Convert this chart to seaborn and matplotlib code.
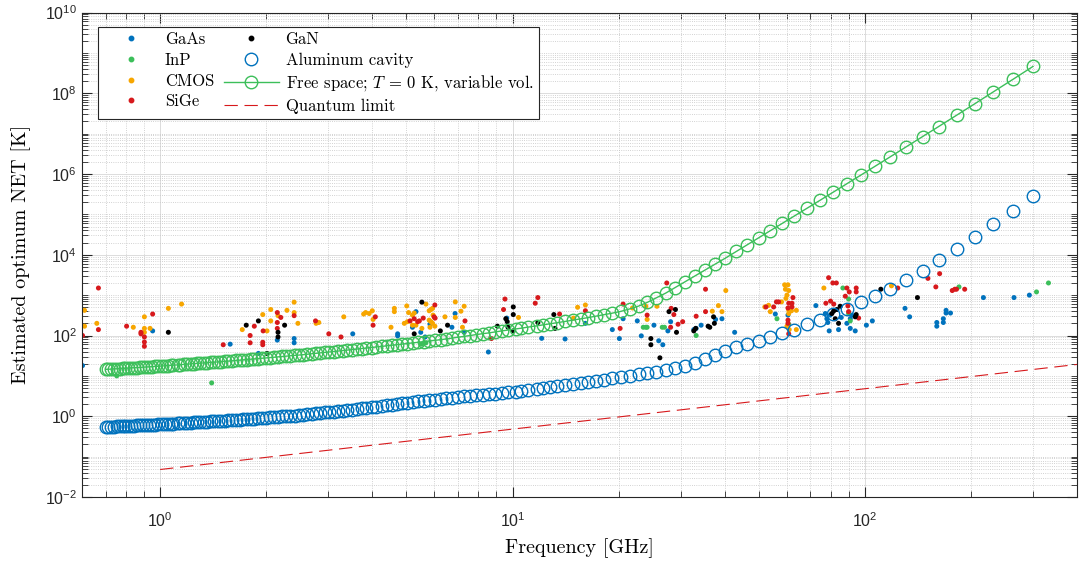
import numpy as np
import pandas as pd
import matplotlib
matplotlib.use("Agg")
import matplotlib.pyplot as plt
import seaborn as sns
from matplotlib.lines import Line2D
from matplotlib.ticker import LogLocator, NullFormatter, FixedLocator

# ---- measured devices: frequency [GHz] and noise temperature [K] ----
GaAs_f = [0.602,0.952,1.58,1.9,2.15,2.4,2.4,3.52,4.72,4.72,5.32,5.2,5.49,5.83,5.65,6.87,6.73,7.29,8.54,9.63,12.1,14.1,16.1,19.2,20.1,20.6,22.6,23.2,25.2,27.6,26.7,26,28.1,32.7,33.2,34.3,37.7,39.3,42.7,55.7,60.5,72.6,77.2,79.7,78,78.5,79.2,84.2,85.7,90.9,91.8,90.9,93.9,88.9,101,105,130,134,160,160,167,167,170,170,175,217,265,293]
GaAs_T = [18,130,61,36,77,84,66,110,110,98,390,160,120,190,92,350,160,120,39,270,85,82,200,140,84,260,230,98,180,130,59,74,220,140,150,180,250,260,120,340,320,550,350,320,260,210,130,140,280,260,320,150,130,200,180,230,470,290,210,170,260,210,420,360,360,870,870,1000]
InP_f = [0.753,1.40,5.68,5.52,23.5,23.9,24.1,26.6,27.0,33.2,56.3,60.8,86.6,89.9,89.9,90.9,185,307,332]
InP_T = [10,6.7,66,61,160,160,160,160,160,100,260,190,1500,800,350,230,1600,1200,2000]
CMOS_f = [0.610,0.661,0.610,0.839,0.902,0.902,0.902,0.936,1.055,1.15,1.71,1.955,2.01,2.06,2.06,2.16,2.29,2.40,2.40,2.46,2.82,2.77,3.32,3.78,3.83,3.92,4.0,4.02,4.62,4.62,4.52,5.01,5.07,5.03,4.93,5.2,5.26,5.2,5.32,5.53,5.68,5.8,5.87,5.93,5.95,5.8,5.87,5.93,5.83,6.02,6.43,6.88,7.29,7.14,6.88,7.21,10.4,14.9,15.3,16.1,21.9,23.9,24.1,25.7,36.9,38.4,39.3,40.3,52.0,53.3,53.9,58.0,59.2,60.5,59.5,60.1,60.8,59.7,60.8,60.8,60.1,61.0,63.9,61.9,63.9,76.5,119]
CMOS_T = [420,200,170,160,290,150,120,150,470,600,140,330,130,440,230,310,420,670,370,200,210,200,290,340,370,350,410,250,470,390,160,540,370,220,200,320,360,180,180,150,600,410,440,470,320,240,220,200,160,170,290,680,530,400,280,160,280,270,500,570,480,530,250,530,400,550,390,1300,510,560,390,680,1800,1800,1400,1000,1300,830,420,350,170,140,140,410,420,1500,1700]
SiGe_f = [0.668,0.668,0.602,0.803,0.952,0.882,0.882,0.902,0.902,0.902,1.51,1.80,1.80,1.85,1.96,1.955,1.955,2.15,2.20,2.15,2.15,2.40,2.76,3.01,3.26,4.08,4.02,5.12,5.26,5.38,5.44,5.58,6.02,5.99,6.03,7.33,8.71,9.43,9.52,11.6,11.8,13.6,16.1,20.6,20.2,24.1,27.4,28.2,28.7,28.1,29.5,30.4,33.2,35.3,35.3,52.4,55.1,56.1,56.9,62.5,60.8,62.1,62.1,60.5,60.5,60.5,60.8,78.9,81.1,83.0,77.5,79.9,81.6,88.9,90.3,94.5,94.5,88.0,89.5,89.9,96.0,124,151,163,159,177,180,182,192]
SiGe_T = [1500,140,100,170,340,120,110,92,69,54,59,100,66,170,130,68,59,370,280,210,150,310,230,110,92,290,180,230,260,220,230,270,570,290,270,230,84,440,800,630,870,340,410,600,150,320,2000,470,330,160,190,220,300,1400,390,510,510,680,680,870,630,630,510,480,240,200,110,2700,2000,2000,630,710,600,1500,1200,1500,1200,940,540,390,270,1500,2600,3400,1600,1300,1400,1400,1400]
GaN_f = [1.055,1.755,1.90,2.01,2.16,2.16,2.255,5.26,5.53,6.24,6.54,9.06,9.57,9.66,10.05,10.05,9.71,10.05,11.8,13.1,13.2,24.7,24.7,26.2,27.8,29.0,29.2,32.7,33.1,35.9,36.3,37.2,37.4,85.1,83.3,81.5,80.6,82.4,84.2,94.5,93.9,111,141]
GaN_T = [120,180,230,36,120,92,180,110,670,130,180,170,260,220,510,330,160,130,210,330,150,84,59,28,390,440,120,130,150,170,160,290,200,530,440,400,350,260,200,330,290,1400,870]

# ---- model curves: frequency [GHz], aluminum cavity [K], free space [K] ----
curve_f = [.7,.713,.726,.739,.753,.767,.782,.797,.812,.827,.843,.86,.877,.894,.912,.93,.949,.968,.988,1.01,1.03,1.05,1.07,1.09,1.12,1.14,1.17,1.19,1.22,1.25,1.27,1.3,1.33,1.36,1.39,1.42,1.46,1.49,1.53,1.56,1.6,1.64,1.68,1.72,1.76,1.81,1.85,1.9,1.95,2,2.05,2.11,2.16,2.22,2.28,2.34,2.41,2.47,2.54,2.61,2.69,2.77,2.85,2.93,3.02,3.11,3.2,3.3,3.4,3.51,3.62,3.73,3.85,3.98,4.11,4.25,4.39,4.54,4.7,4.86,5.03,5.21,5.4,5.6,5.81,6.02,6.25,6.49,6.74,7.01,7.29,7.59,7.9,8.23,8.57,8.94,9.33,9.74,10.2,10.6,11.1,11.7,12.2,12.8,13.4,14.1,14.8,15.6,16.4,17.3,18.2,19.2,20.3,21.5,22.8,24.1,25.6,27.2,28.9,30.8,32.9,35.1,37.6,40.2,43.2,46.4,50,53.9,58.3,63.1,68.5,74.6,81.4,89,97.6,107,118,131,146,162,182,205,231,263,300]
cavity_T = [0.543,0.547,0.552,0.556,0.56,0.565,0.569,0.574,0.578,0.583,0.587,0.592,0.597,0.602,0.607,0.612,0.617,0.622,0.628,0.633,0.64,0.647,0.653,0.66,0.667,0.674,0.682,0.689,0.696,0.704,0.712,0.72,0.728,0.736,0.744,0.753,0.762,0.771,0.78,0.789,0.799,0.812,0.825,0.838,0.851,0.865,0.879,0.893,0.908,0.923,0.939,0.955,0.971,0.988,1,1.02,1.04,1.06,1.09,1.12,1.14,1.17,1.21,1.24,1.27,1.31,1.35,1.38,1.42,1.46,1.51,1.56,1.62,1.67,1.73,1.8,1.86,1.93,2,2.08,2.15,2.24,2.32,2.4,2.49,2.58,2.67,2.77,2.88,2.99,3.09,3.19,3.3,3.41,3.52,3.64,3.77,3.9,4.06,4.28,4.51,4.75,5.01,5.29,5.59,5.92,6.27,6.65,7.06,7.5,8.02,8.65,9.35,10.1,10.9,11.8,12.7,14,15.6,17.6,20.9,26.1,33,41.5,52.1,62,74.7,93.4,113,140,193,246,346,464,665,959,1.44e3,2.35e3,4.06e3,7.42e3,1.37e4,2.76e4,5.79e4,1.21e5,2.81e5]
free_T = [14.5,14.6,14.7,14.9,15,15.2,15.3,15.5,15.6,15.8,15.9,16.1,16.2,16.4,16.6,16.7,16.9,17.1,17.3,17.5,17.7,17.9,18.2,18.4,18.7,18.9,19.2,19.5,19.8,20.1,20.3,20.6,20.9,21.2,21.5,21.8,22.2,22.5,22.9,23.2,23.6,24.1,24.5,24.9,25.4,25.9,26.3,26.9,27.4,27.9,28.4,29.1,29.6,30.2,30.8,31.4,32.1,32.7,33.4,34.3,35.2,36.2,37.1,38,39.1,40.1,41.2,42.3,43.5,44.7,46,47.3,48.6,50.1,51.7,53.5,55.3,57.2,59.2,61.2,63.3,65.6,68,70.5,73.1,75.8,78.7,82.3,86.3,90.6,95.2,100,105,111,116,123,130,137,145,152,162,173,183,195,208,223,239,257,278,303,328,358,396,455,536,658,856,1.12e3,1.53e3,2.12e3,2.97e3,4.13e3,5.87e3,8.25e3,1.21e4,1.77e4,2.65e4,3.94e4,5.99e4,9.12e4,1.41e5,2.23e5,3.56e5,5.76e5,9.49e5,1.56e6,2.66e6,4.7e6,8.48e6,1.5e7,2.84e7,5.47e7,1.07e8,2.2e8,4.61e8]
qlim_f = [1, 400]
qlim_T = [0.048, 19.2]

techs = ['GaAs', 'InP', 'CMOS', 'SiGe', 'GaN']
F = [GaAs_f, InP_f, CMOS_f, SiGe_f, GaN_f]
T = [GaAs_T, InP_T, CMOS_T, SiGe_T, GaN_T]
df = pd.DataFrame({'f': np.concatenate(F), 'T': np.concatenate(T),
                   'tech': np.repeat(techs, [len(a) for a in F])})

cols = {'GaAs': '#0072BD', 'InP': '#3CBF5A', 'CMOS': '#F7A600', 'SiGe': '#D7191C', 'GaN': '#000000'}
c_cav, c_free, c_q = '#0072BD', '#3CBF5A', '#D7191C'

plt.rcParams['axes.formatter.use_mathtext'] = True
plt.rcParams['mathtext.fontset'] = 'cm'
fig = plt.figure(figsize=(10.79, 5.62), dpi=100)
ax = fig.add_axes([82/1079, 1-497/562, (1077-82)/1079, (497-12.5)/562])
ax.set_xscale('log'); ax.set_yscale('log')
sns.scatterplot(data=df, x='f', y='T', hue='tech', hue_order=techs, palette=cols, s=13,
                linewidth=0, legend=False, ax=ax)
sns.lineplot(x=curve_f, y=cavity_T, ax=ax, color=c_cav, linestyle='', marker='o', markersize=9,
             markerfacecolor='none', markeredgecolor=c_cav, markeredgewidth=1, sort=False, estimator=None)
sns.lineplot(x=curve_f, y=free_T, ax=ax, color=c_free, lw=1, marker='o', markersize=9,
             markerfacecolor='none', markeredgecolor=c_free, markeredgewidth=1, sort=False, estimator=None)
sns.lineplot(x=qlim_f, y=qlim_T, ax=ax, color=c_q, lw=0.8, linestyle=(0, (12, 6)), sort=False, estimator=None)

ax.set_xlim(0.6, 400); ax.set_ylim(1e-2, 1e10)
ax.yaxis.set_major_locator(FixedLocator([10.0**k for k in range(-2, 11, 2)]))
ax.yaxis.set_minor_locator(LogLocator(base=10, subs=np.arange(1, 10), numticks=50))
ax.yaxis.set_minor_formatter(NullFormatter())
ax.xaxis.set_minor_locator(LogLocator(base=10, subs=np.arange(2, 10), numticks=50))
ax.xaxis.set_minor_formatter(NullFormatter())
ax.grid(True, which='major', color='#dcdcdc', lw=0.7, ls='-')
ax.grid(True, which='minor', color='#c4c4c4', lw=0.6, ls=':')
ax.set_axisbelow(True)
for s in ax.spines.values():
    s.set_color('#262626'); s.set_linewidth(0.8)
ax.tick_params(which='both', direction='in', top=True, right=True, colors='#262626',
               labelfontfamily='Liberation Sans', labelsize=11.5)
ax.tick_params(which='major', length=7)
ax.tick_params(which='minor', length=4)
ax.tick_params(axis='x', which='major', pad=10.5)
ax.set_xlabel('Frequency [GHz]', fontfamily='cmr10', fontsize=14.5, labelpad=5.5)
ax.set_ylabel('Estimated optimum NET [K]', fontfamily='cmr10', fontsize=14.5, labelpad=9.8)

h = [Line2D([], [], ls='', marker='o', ms=3.2, mfc=cols[k], mec=cols[k]) for k in techs]
h.append(Line2D([], [], ls='', marker='o', ms=9, mfc='none', mec=c_cav))
h.append(Line2D([], [], color=c_free, lw=1, marker='o', ms=9, mfc='none', mec=c_free))
h.append(Line2D([], [], color=c_q, lw=0.8, ls=(0, (12, 6))))
labs = ['GaAs', 'InP', 'CMOS', 'SiGe', 'GaN', 'Aluminum cavity',
        'Free space; $T$ = 0 K, variable vol.', 'Quantum limit']
leg = ax.legend(h, labs, ncol=2, loc='upper left', bbox_to_anchor=(16/995, 1-14.5/484.5), borderaxespad=0,
                prop={'family': 'cmr10', 'size': 12}, frameon=True, fancybox=False, framealpha=1,
                edgecolor='#262626', handlelength=3.3, handletextpad=0.4, columnspacing=0.6,
                labelspacing=0.32, borderpad=0.3)
leg.get_frame().set_linewidth(0.8)
fig.savefig('out.png', dpi=100)
